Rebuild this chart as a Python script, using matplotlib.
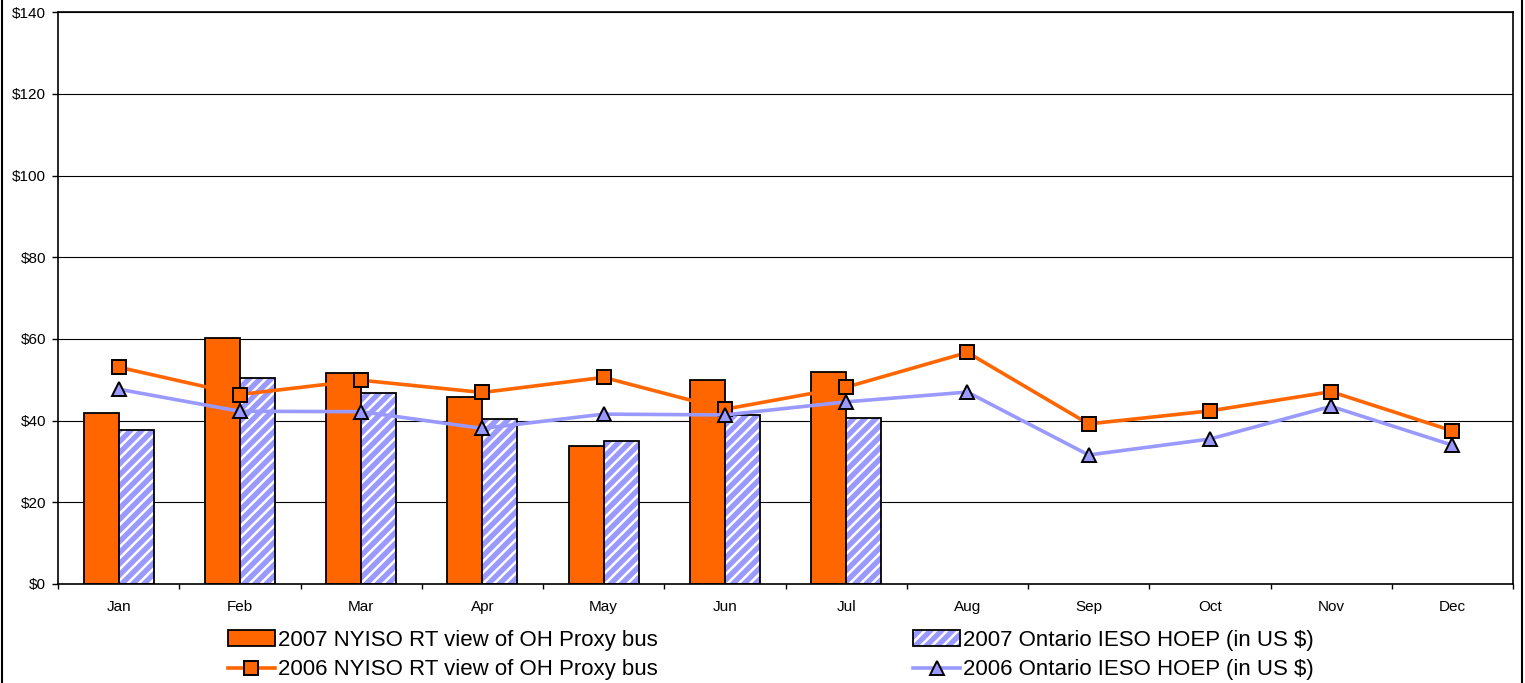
import matplotlib
matplotlib.use("Agg")
import matplotlib.pyplot as plt
import matplotlib.patches as mpatches
from matplotlib.lines import Line2D
from matplotlib.legend_handler import HandlerTuple
import numpy as np

months = ["Jan", "Feb", "Mar", "Apr", "May", "Jun",
          "Jul", "Aug", "Sep", "Oct", "Nov", "Dec"]

# 2007 bars (Jan-Jul only)
nyiso_2007 = [41.9, 60.2, 51.7, 45.8, 33.8, 50.0, 51.8]
ieso_2007 = [37.6, 50.5, 46.8, 40.4, 35.0, 41.5, 40.7]

# 2006 lines
nyiso_2006 = [53.1, 46.4, 49.9, 46.9, 50.6, 42.8, 48.2, 56.7, 39.2, 42.4, 47.1, 37.5]
ieso_2006 = [47.7, 42.3, 42.2, 38.1, 41.6, 41.4, 44.6, 47.0, 31.6, 35.5, 43.5, 34.0]

yticks = [0, 20, 40, 60, 80, 100, 120, 140]

ORANGE = "#FF6600"
LAVENDER = "#9999FF"

plt.rcParams['font.family'] = ['Liberation Sans', 'DejaVu Sans']
plt.rcParams['hatch.linewidth'] = 1.8

fig = plt.figure(figsize=(15.25, 6.83), dpi=100)
ax = fig.add_axes([58 / 1525, 1 - 584 / 683, (1513 - 58) / 1525, (584 - 12.3) / 683])

x_all = np.arange(len(months))
x_bar = np.arange(len(nyiso_2007))
w = 0.289

ax.bar(x_bar - w / 2, nyiso_2007, w, color=ORANGE, edgecolor="black", linewidth=1.3, zorder=2)
ax.bar(x_bar + w / 2, ieso_2007, w, color=LAVENDER, edgecolor="white", hatch="///",
       linewidth=0, zorder=2)
ax.bar(x_bar + w / 2, ieso_2007, w, fill=False, edgecolor="black", linewidth=1.3, zorder=2.1)

ax.plot(x_all, nyiso_2006, color=ORANGE, lw=2.6, marker="s", markersize=10,
        markerfacecolor=ORANGE, markeredgecolor="black", markeredgewidth=1.4, zorder=3)
ax.plot(x_all, ieso_2006, color=LAVENDER, lw=2.6, marker="^", markersize=10,
        markerfacecolor=LAVENDER, markeredgecolor="black", markeredgewidth=1.4, zorder=3)

ax.set_xlim(-0.5, len(months) - 0.5)
ax.set_ylim(0, 140)
ax.set_yticks(yticks)
ax.set_yticklabels([f"${v}" for v in yticks])
ax.set_xticks(x_all)
ax.set_xticklabels(months)
ax.set_xticks(np.arange(-0.5, len(months), 1), minor=True)
ax.tick_params(axis="x", which="major", length=0, pad=11.5, labelsize=11)
ax.tick_params(axis="x", which="minor", length=3.5, width=1, direction="out")
ax.tick_params(axis="y", length=4.5, width=1, pad=4, labelsize=11)

ax.yaxis.grid(True, color="black", linewidth=0.8, zorder=0)
ax.set_axisbelow(True)
for s in ax.spines.values():
    s.set_linewidth(1.2)

# legend
h1 = mpatches.Patch(facecolor=ORANGE, edgecolor="black", linewidth=1.3)
h2 = (mpatches.Patch(facecolor=LAVENDER, edgecolor="white", hatch="///", linewidth=0),
      mpatches.Patch(fill=False, edgecolor="black", linewidth=1.3))
h3 = Line2D([], [], color=ORANGE, lw=2.6, marker="s", markersize=10,
            markerfacecolor=ORANGE, markeredgecolor="black", markeredgewidth=1.4)
h4 = Line2D([], [], color=LAVENDER, lw=2.6, marker="^", markersize=10,
            markerfacecolor=LAVENDER, markeredgecolor="black", markeredgewidth=1.4)
fig.legend([h1, h3, h2, h4],
           ["2007 NYISO RT view of OH Proxy bus", "2006 NYISO RT view of OH Proxy bus",
            "2007 Ontario IESO HOEP (in US $)", "2006 Ontario IESO HOEP (in US $)"],
           handler_map={tuple: HandlerTuple(ndivide=1)},
           ncol=2, loc="upper left", bbox_to_anchor=(228 / 1525, 1 - 630 / 683),
           frameon=False, fontsize=16, handlelength=2.1, handleheight=0.7,
           handletextpad=0.15, columnspacing=11.5, labelspacing=0.38,
           borderaxespad=0, borderpad=0)

# figure side borders
fig.add_artist(Line2D([1.5 / 1525, 1.5 / 1525], [0, 1], color="black", lw=1.5))
fig.add_artist(Line2D([1522 / 1525, 1522 / 1525], [0, 1], color="black", lw=1.5))

fig.savefig("out.png", dpi=100)
